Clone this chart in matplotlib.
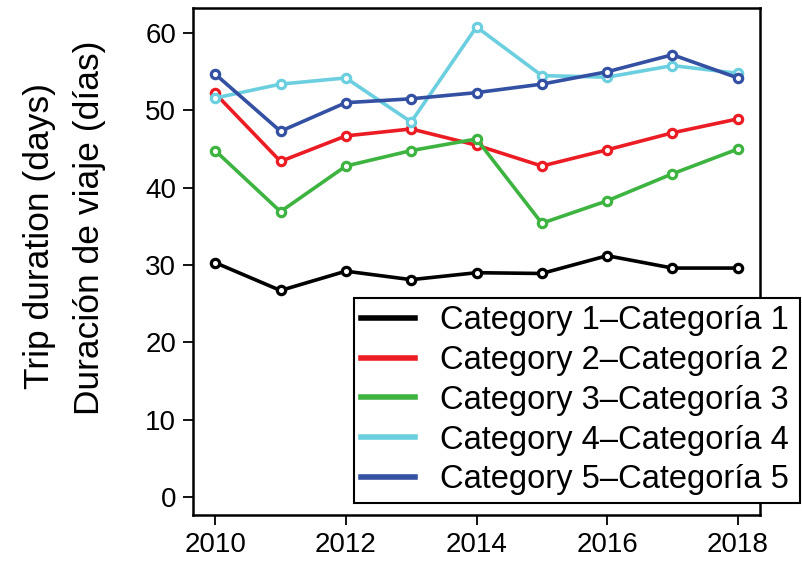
import matplotlib.pyplot as plt

plt.rcParams["font.family"] = ["Liberation Sans", "DejaVu Sans"]

# %%
# Data
years = [2010, 2011, 2012, 2013, 2014, 2015, 2016, 2017, 2018]
cat1 = [30.3, 26.7, 29.2, 28.1, 29.0, 28.9, 31.2, 29.6, 29.6]
cat2 = [52.2, 43.4, 46.7, 47.6, 45.5, 42.8, 44.9, 47.1, 48.9]
cat3 = [44.8, 36.9, 42.8, 44.8, 46.3, 35.4, 38.3, 41.8, 45.0]
cat4 = [51.6, 53.4, 54.2, 48.5, 60.8, 54.5, 54.3, 55.8, 54.8]
cat5 = [54.7, 47.3, 51.0, 51.5, 52.3, 53.4, 55.0, 57.2, 54.2]

labels = [
    "Category 1\u2013Categoría 1",
    "Category 2\u2013Categoría 2",
    "Category 3\u2013Categoría 3",
    "Category 4\u2013Categoría 4",
    "Category 5\u2013Categoría 5",
]
colours = ["black", "#EC1C24", "#3DB340", "#6CCFDF", "#3350A3"]
xticks = [2010, 2012, 2014, 2016, 2018]
yticks = [0, 10, 20, 30, 40, 50, 60]

# %%
# Plotting
fig = plt.figure(figsize=(8.03, 5.67), dpi=100)
ax = fig.add_axes([0.2403, 0.0917, 0.7062, 0.8942])

for series, colour, label in zip([cat1, cat2, cat3, cat4, cat5], colours, labels):
    ax.plot(years, series, color=colour, lw=2.6, marker="o", ms=6,
            mfc="white", mec=colour, mew=2.3, label=label)

ax.set_xlim(2009.66, 2018.34)
ax.set_ylim(-2.35, 63.25)
ax.set_xticks(xticks)
ax.set_yticks(yticks)
ax.tick_params(direction="out", length=7, width=1.3, labelsize=20, pad=5)
for spine in ax.spines.values():
    spine.set_linewidth(1.8)

fig.text(40 / 803, 1 - 236 / 567, "Trip duration (days)", rotation=90,
         ha="center", va="center", fontsize=25.5)
fig.text(90 / 803, 1 - 228 / 567, "Duración de viaje (días)", rotation=90,
         ha="center", va="center", fontsize=25.5)

leg = ax.legend(loc="upper left", bbox_to_anchor=(354 / 803, 0.109, 446 / 803, 1 - 298 / 567 - 0.109),
                bbox_transform=fig.transFigure, mode="expand", fontsize=23.5,
                frameon=True, fancybox=False, edgecolor="black", framealpha=1,
                handlelength=1.65, handletextpad=0.75, borderpad=0.22,
                labelspacing=0.27, borderaxespad=0)
leg.get_frame().set_linewidth(1.5)
for h in leg.legend_handles:
    h.set_marker("")
    h.set_linewidth(4)

fig.savefig("out.png", dpi=100)
